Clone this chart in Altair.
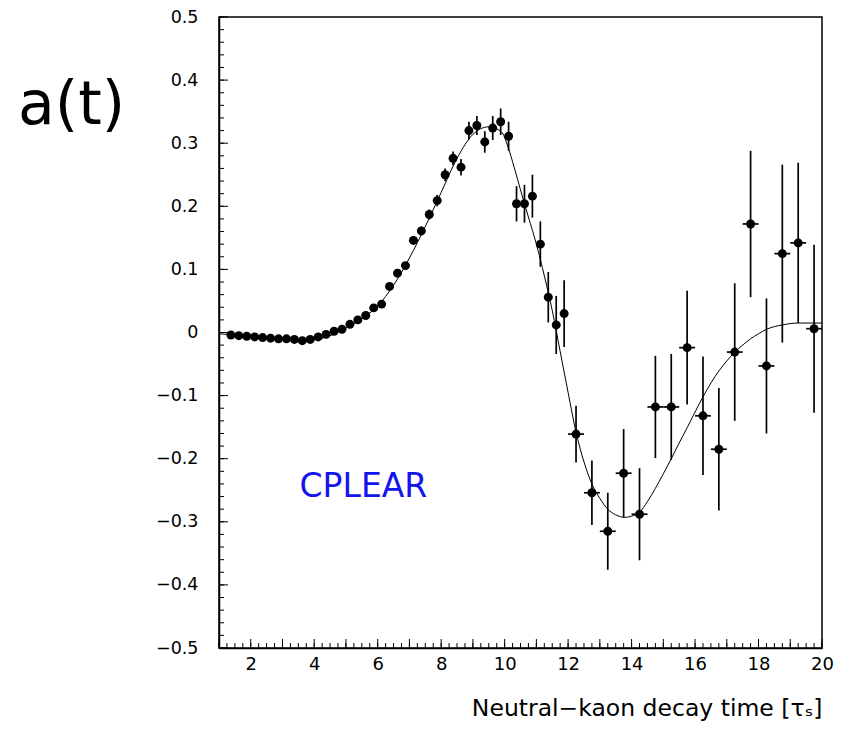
import altair as alt
import pandas as pd
import numpy as np

# ---------------- data ----------------
t = [1.375, 1.625, 1.875, 2.125, 2.375, 2.625, 2.875, 3.125, 3.375, 3.625,
     3.875, 4.125, 4.375, 4.625, 4.875, 5.125, 5.375, 5.625, 5.875, 6.125,
     6.375, 6.625, 6.875, 7.125, 7.375, 7.625, 7.875, 8.125, 8.375, 8.625,
     8.875, 9.125, 9.375, 9.625, 9.875, 10.125,
     10.375, 10.625, 10.875, 11.125, 11.375, 11.625, 11.875,
     12.25, 12.75, 13.25, 13.75, 14.25, 14.75, 15.25, 15.75,
     16.25, 16.75, 17.25, 17.75, 18.25, 18.75, 19.25, 19.75]

a = [-0.004, -0.005, -0.006, -0.007, -0.008, -0.009, -0.010, -0.010, -0.011, -0.013,
     -0.011, -0.007, -0.003, 0.002, 0.005, 0.013, 0.020, 0.027, 0.039, 0.045,
     0.073, 0.094, 0.106, 0.146, 0.161, 0.187, 0.209, 0.250, 0.276, 0.262,
     0.320, 0.328, 0.302, 0.324, 0.334, 0.311,
     0.204, 0.204, 0.216, 0.140, 0.056, 0.012, 0.030,
     -0.161, -0.254, -0.315, -0.223, -0.288, -0.118, -0.118, -0.024,
     -0.132, -0.185, -0.031, 0.172, -0.053, 0.125, 0.142, 0.006]

a_err = [0.003, 0.003, 0.003, 0.003, 0.003, 0.003, 0.003, 0.003, 0.003, 0.003,
         0.003, 0.003, 0.004, 0.004, 0.004, 0.004, 0.004, 0.004, 0.005, 0.005,
         0.005, 0.006, 0.006, 0.007, 0.007, 0.008, 0.009, 0.010, 0.011, 0.013,
         0.014, 0.015, 0.017, 0.019, 0.021, 0.023,
         0.028, 0.030, 0.034, 0.036, 0.040, 0.046, 0.053,
         0.045, 0.051, 0.061, 0.070, 0.073, 0.081, 0.084, 0.090,
         0.094, 0.097, 0.109, 0.116, 0.107, 0.141, 0.127, 0.133]

t_halfwidth = [0.125] * 43 + [0.25] * 16

# fitted curve
curve_t = [1.0, 1.5, 2.0, 2.5, 3.0, 3.5, 4.0, 4.5, 5.0, 5.5, 6.0, 6.5, 7.0, 7.5,
           8.0, 8.5, 9.0, 9.5, 9.9, 10.1, 10.3, 10.5, 10.75, 11.0, 11.25, 11.5,
           11.75, 12.0, 12.25, 12.5, 12.75, 13.0, 13.25, 13.5, 13.8, 14.0,
           14.25, 14.5, 14.75, 15.0, 15.25, 15.5, 15.75, 16.0, 16.25, 16.5,
           16.75, 17.0, 17.25, 17.5, 17.75, 18.0, 18.25, 18.75, 19.25, 19.75, 20.0]
curve_a = [-0.002, -0.004, -0.006, -0.008, -0.010, -0.011, -0.011, -0.005, 0.007,
           0.022, 0.042, 0.075, 0.118, 0.168, 0.222, 0.276, 0.314, 0.326, 0.318,
           0.295, 0.262, 0.226, 0.183, 0.140, 0.090, 0.035, -0.030, -0.095,
           -0.158, -0.205, -0.240, -0.263, -0.280, -0.289, -0.293, -0.291,
           -0.285, -0.268, -0.247, -0.224, -0.200, -0.175, -0.151, -0.126,
           -0.102, -0.080, -0.061, -0.045, -0.031, -0.020, -0.010, -0.002,
           0.005, 0.012, 0.015, 0.015, 0.015]

x_label_values = [2, 4, 6, 8, 10, 12, 14, 16, 18, 20]
y_label_values = [-0.5, -0.4, -0.3, -0.2, -0.1, 0, 0.1, 0.2, 0.3, 0.4, 0.5]

annotation = pd.DataFrame({"t": [5.55], "a": [-0.245], "label": ["CPLEAR"]})

# ---------------- tables ----------------
pts = pd.DataFrame({
    "t": t, "a": a,
    "lo": np.array(a) - np.array(a_err), "hi": np.array(a) + np.array(a_err),
    "tlo": np.array(t) - np.array(t_halfwidth), "thi": np.array(t) + np.array(t_halfwidth),
})
curve = pd.DataFrame({"t": curve_t, "a": curve_a})

y_minor = pd.DataFrame({"v": np.round(np.arange(-0.5, 0.5001, 0.02), 2)})
y_major = pd.DataFrame({"v": y_label_values})
x_minor = pd.DataFrame({"v": np.arange(1.0, 20.001, 0.25)})
x_major = pd.DataFrame({"v": np.arange(1.0, 20.001, 1.0)})

W, H = 603, 631
FONT = "DejaVu Sans"

xscale = alt.Scale(domain=[1, 20], nice=False, zero=False)
yscale = alt.Scale(domain=[-0.5, 0.5], nice=False, zero=False)

x_axis = alt.Axis(values=x_label_values, ticks=False, tickSize=0, grid=False,
                  labelFont=FONT, labelFontSize=18, labelColor="black",
                  labelPadding=7, domainColor="black", domainWidth=1.5,
                  title="Neutral−kaon decay time [τₛ]", titleFont=FONT,
                  titleFontSize=23.5, titleFontWeight="normal", titleColor="black",
                  titleAlign="right", titleAnchor="end", titleBaseline="alphabetic",
                  titleX=W, titleY=67, labelFlush=False, labelOverlap=False)
y_axis = alt.Axis(values=y_label_values, ticks=False, tickSize=0, grid=False,
                  labelFont=FONT, labelFontSize=17.5, labelColor="black",
                  labelPadding=21, domainColor="black", domainWidth=1.5,
                  labelExpr="datum.value == 0 ? '0' : format(datum.value, '.1f')",
                  title="a(t)", titleFont=FONT, titleFontSize=60,
                  titleFontWeight="normal", titleColor="black", titleAngle=0,
                  titleAlign="center", titleBaseline="alphabetic",
                  titleX=-148, titleY=106, labelFlush=False, labelOverlap=False)

X = lambda f: alt.X(f, scale=xscale, axis=x_axis)
Y = lambda f: alt.Y(f, scale=yscale, axis=y_axis)

line = alt.Chart(curve).mark_line(color="black", strokeWidth=1, interpolate="monotone").encode(
    x=X("t:Q"), y=Y("a:Q"),
)
vbars = alt.Chart(pts).mark_rule(color="black", strokeWidth=1.7).encode(
    x=X("t:Q"), y=Y("lo:Q"), y2="hi:Q",
)
hbars = alt.Chart(pts).mark_rule(color="black", strokeWidth=1.7).encode(
    x=X("tlo:Q"), x2="thi:Q", y=Y("a:Q"),
)
points = alt.Chart(pts).mark_point(filled=True, shape="circle", size=80,
                                   color="black", opacity=1).encode(
    x=X("t:Q"), y=Y("a:Q"),
)

ytick_minor = alt.Chart(y_minor).mark_rule(color="black", strokeWidth=1).encode(
    y=Y("v:Q"), x=alt.value(0), x2=alt.value(5))
ytick_major = alt.Chart(y_major).mark_rule(color="black", strokeWidth=1).encode(
    y=Y("v:Q"), x=alt.value(0), x2=alt.value(9))
xtick_minor = alt.Chart(x_minor).mark_rule(color="black", strokeWidth=1).encode(
    x=X("v:Q"), y=alt.value(H), y2=alt.value(H - 5))
xtick_major = alt.Chart(x_major).mark_rule(color="black", strokeWidth=1).encode(
    x=X("v:Q"), y=alt.value(H), y2=alt.value(H - 9))

label = alt.Chart(annotation).mark_text(font=FONT, fontSize=33, color="#1414ee",
                                        align="center", baseline="middle").encode(
    x=X("t:Q"), y=Y("a:Q"), text="label:N",
)

chart = alt.layer(
    ytick_minor, ytick_major, xtick_minor, xtick_major,
    line, vbars, hbars, points, label,
).properties(
    width=W, height=H,
    background="white",
    padding={"left": 211, "top": 9, "right": 15, "bottom": 73},
    autosize=alt.AutoSizeParams(type="none"),
).configure_view(
    stroke="black", strokeWidth=1.5
)

chart.save("out.html", embed_options={"renderer": "svg", "actions": False})
